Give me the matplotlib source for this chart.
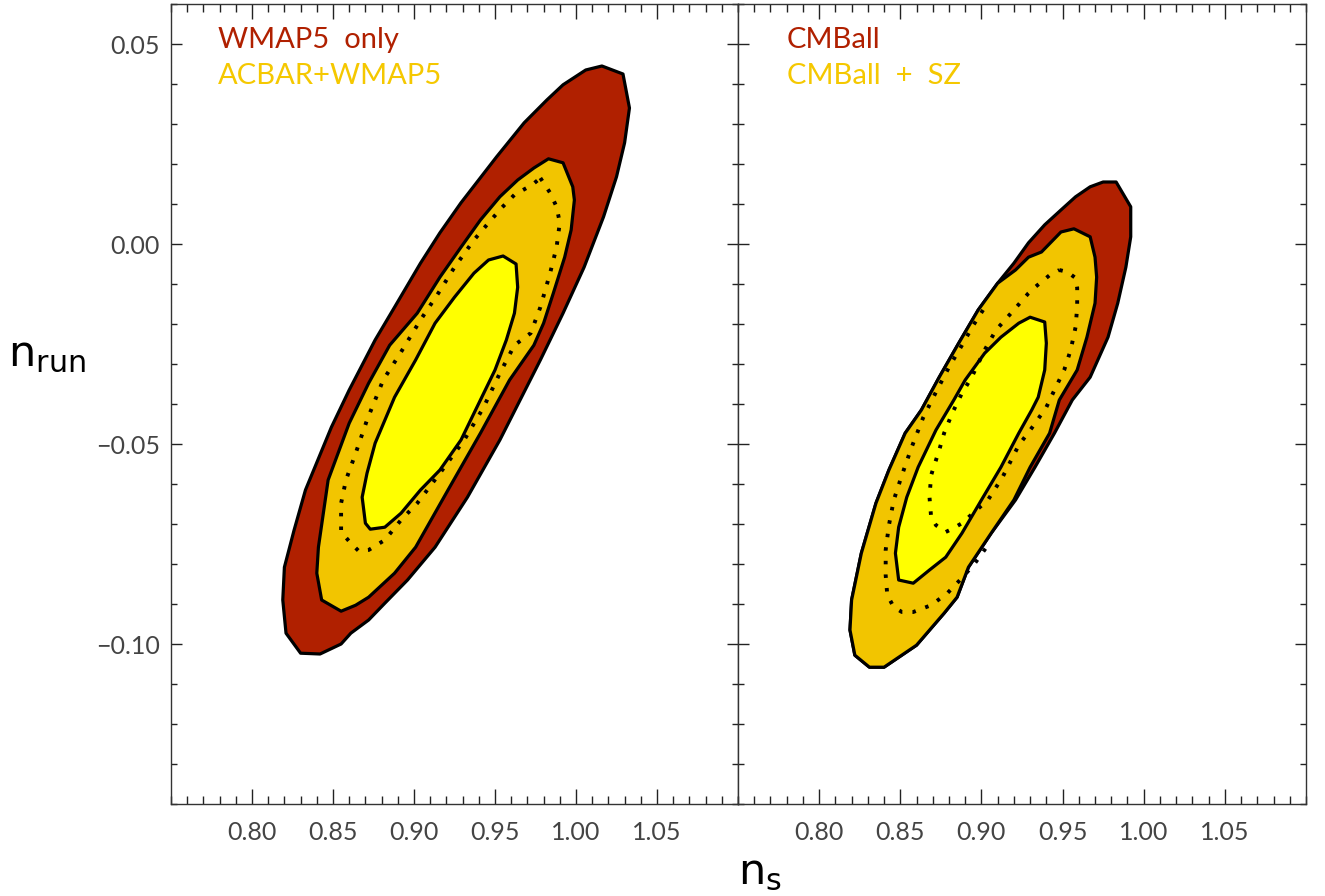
import matplotlib
matplotlib.use("Agg")
import matplotlib.pyplot as plt
from matplotlib.ticker import MultipleLocator, FuncFormatter

# ---------------- data (n_s, n_run) ----------------
# Left panel: WMAP5 only (95%, red), ACBAR+WMAP5 (95% gold, 68% yellow), WMAP5 68% (dotted)
wmap5_95_ns = [1.016, 1.029, 1.033, 1.030, 1.025, 1.017, 1.005, 0.992, 0.984, 0.978,
               0.953, 0.933, 0.913, 0.896, 0.882, 0.872, 0.861, 0.855, 0.842, 0.830,
               0.821, 0.819, 0.820, 0.826, 0.833, 0.849, 0.860, 0.876, 0.888, 0.904,
               0.916, 0.929, 0.951, 0.968, 0.982, 0.992, 1.006]
wmap5_95_nrun = [0.0445, 0.0425, 0.034, 0.0253, 0.0168, 0.0068, -0.0058, -0.0173, -0.024, -0.029,
                 -0.049, -0.0633, -0.0758, -0.084, -0.0898, -0.094, -0.0973, -0.100, -0.1025, -0.1023,
                 -0.0973, -0.089, -0.0808, -0.0715, -0.0615, -0.0458, -0.0365, -0.024, -0.0158, -0.0048,
                 0.0028, 0.0103, 0.0218, 0.0303, 0.036, 0.0398, 0.0435]

acbar_95_ns = [0.983, 0.992, 0.998, 0.999, 0.997, 0.993, 0.986, 0.980, 0.974, 0.959,
               0.941, 0.921, 0.901, 0.888, 0.872, 0.864, 0.855, 0.843, 0.840, 0.841,
               0.847, 0.860, 0.872, 0.885, 0.902, 0.916, 0.929, 0.941, 0.953, 0.964, 0.974]
acbar_95_nrun = [0.0213, 0.0203, 0.0143, 0.011, 0.0035, -0.0033, -0.0123, -0.0198, -0.0253, -0.034,
                 -0.0473, -0.0615, -0.0758, -0.0823, -0.0883, -0.0903, -0.0918, -0.089, -0.0823, -0.0758,
                 -0.059, -0.0448, -0.0348, -0.0253, -0.0173, -0.0083, -0.0008, 0.006, 0.0118, 0.016, 0.019]

acbar_68_ns = [0.955, 0.963, 0.964, 0.962, 0.957, 0.950, 0.941, 0.929, 0.916, 0.904,
               0.892, 0.882, 0.873, 0.870, 0.868, 0.871, 0.876, 0.888, 0.901, 0.913,
               0.925, 0.937, 0.946]
acbar_68_nrun = [-0.003, -0.005, -0.0108, -0.0173, -0.024, -0.0315, -0.039, -0.049, -0.0565, -0.0615,
                 -0.0673, -0.0708, -0.0713, -0.0698, -0.0633, -0.0573, -0.0498, -0.0383, -0.029, -0.0198,
                 -0.0133, -0.0073, -0.004]

wmap5_68_ns = [0.978, 0.984, 0.988, 0.990, 0.988, 0.984, 0.978, 0.972, 0.962, 0.953,
               0.943, 0.931, 0.916, 0.902, 0.892, 0.882, 0.872, 0.866, 0.861, 0.855,
               0.855, 0.858, 0.864, 0.871, 0.881, 0.892, 0.904, 0.915, 0.925, 0.937,
               0.945, 0.954, 0.962, 0.973, 0.978]
wmap5_68_nrun = [0.0165, 0.0128, 0.0093, 0.0053, -0.0008, -0.0073, -0.0158, -0.0223, -0.0253, -0.0323,
                 -0.0408, -0.049, -0.0573, -0.0648, -0.069, -0.074, -0.0765, -0.0768, -0.0748, -0.072,
                 -0.0648, -0.059, -0.0523, -0.044, -0.034, -0.027, -0.019, -0.0123, -0.0058, 0.001,
                 0.0048, 0.009, 0.0123, 0.0148, 0.0165]

# Right panel: CMBall (95%, red), CMBall + SZ (95% gold, 68% yellow), CMBall 68% (dotted)
cmball_95_ns = [0.975, 0.983, 0.992, 0.992, 0.989, 0.984, 0.978, 0.967, 0.956, 0.945,
                0.933, 0.921, 0.906, 0.892, 0.885, 0.877, 0.860, 0.840, 0.831, 0.822,
                0.819, 0.820, 0.826, 0.835, 0.843, 0.853, 0.863, 0.874, 0.886, 0.898,
                0.910, 0.920, 0.929, 0.939, 0.949, 0.958, 0.967]
cmball_95_nrun = [0.0155, 0.0155, 0.0093, 0.0018, -0.0058, -0.0148, -0.0233, -0.0333, -0.039, -0.0473,
                  -0.0558, -0.064, -0.0723, -0.0808, -0.0883, -0.0923, -0.1003, -0.1058, -0.1058, -0.1028,
                  -0.0965, -0.089, -0.0773, -0.0648, -0.0565, -0.0473, -0.0415, -0.0333, -0.0248, -0.0165,
                  -0.0098, -0.0048, 0.0003, 0.0048, 0.0085, 0.0118, 0.0143]

sz_95_ns = [0.957, 0.967, 0.970, 0.971, 0.970, 0.965, 0.959, 0.948, 0.942, 0.930,
            0.920, 0.906, 0.892, 0.885, 0.877, 0.860, 0.840, 0.831, 0.822, 0.819,
            0.820, 0.826, 0.835, 0.843, 0.853, 0.863, 0.874, 0.886, 0.898, 0.910,
            0.921, 0.929, 0.937, 0.949]
sz_95_nrun = [0.0038, 0.0018, -0.0033, -0.0083, -0.0148, -0.0233, -0.0315, -0.039, -0.0473, -0.0558,
              -0.064, -0.0723, -0.0808, -0.0883, -0.0923, -0.1003, -0.1058, -0.1058, -0.1028, -0.0965,
              -0.089, -0.0773, -0.0648, -0.0565, -0.0473, -0.0415, -0.0333, -0.0248, -0.0165, -0.0098,
              -0.0065, -0.0033, -0.002, 0.003]

sz_68_ns = [0.930, 0.939, 0.940, 0.939, 0.935, 0.931, 0.923, 0.912, 0.900, 0.888,
            0.878, 0.868, 0.858, 0.849, 0.847, 0.849, 0.854, 0.861, 0.872, 0.883,
            0.890, 0.902, 0.912, 0.923]
sz_68_nrun = [-0.0183, -0.0195, -0.0248, -0.0315, -0.0383, -0.0415, -0.0473, -0.0558, -0.064, -0.0723,
              -0.0783, -0.0815, -0.0848, -0.084, -0.0773, -0.0708, -0.0633, -0.0558, -0.0465, -0.039,
              -0.034, -0.0273, -0.0233, -0.0198]

cmball_68_ns = [0.948, 0.953, 0.958, 0.959, 0.959, 0.958, 0.955, 0.951, 0.945, 0.940,
                0.931, 0.923, 0.913, 0.904, 0.897, 0.888, 0.883, 0.878, 0.872, 0.869,
                0.868, 0.869, 0.874, 0.877, 0.882, 0.888, 0.894, 0.902, 0.909, 0.920,
                0.929, 0.933, 0.942, 0.948]
cmball_68_nrun = [-0.0065, -0.007, -0.0085, -0.011, -0.0158, -0.0208, -0.0265, -0.0315, -0.0365, -0.0408,
                  -0.046, -0.0503, -0.0583, -0.064, -0.0665, -0.0698, -0.071, -0.072, -0.0703, -0.0683,
                  -0.0633, -0.0578, -0.0515, -0.0473, -0.0423, -0.0373, -0.0333, -0.0265, -0.0215, -0.0165,
                  -0.0123, -0.0108, -0.0078, -0.0065]

extra_dot_ns = [0.901, 0.895, 0.888, 0.880, 0.872, 0.864, 0.857, 0.851, 0.846, 0.843,
                0.841, 0.841, 0.842, 0.846, 0.851, 0.858, 0.869, 0.879, 0.888, 0.896, 0.904]
extra_dot_nrun = [-0.0165, -0.0203, -0.0253, -0.0308, -0.037, -0.0435, -0.0508, -0.0578, -0.064, -0.0703,
                  -0.0765, -0.0828, -0.0878, -0.0908, -0.092, -0.092, -0.0903, -0.0873, -0.0835, -0.0798, -0.0753]

x_ticks = [0.80, 0.85, 0.90, 0.95, 1.00, 1.05]
y_ticks = [-0.10, -0.05, 0.00, 0.05]
x_range = (0.75, 1.10)
y_range = (-0.14, 0.06)

left_labels = ["WMAP5  only", "ACBAR+WMAP5"]
right_labels = ["CMBall", "CMBall  +  SZ"]

# ---------------- style ----------------
RED = "#b02000"
GOLD = "#f2c500"
YEL = "#ffff00"
TXT_GOLD = "#f5c800"
LW = 2.3
plt.rcParams['font.family'] = ['Lato', 'DejaVu Sans']

fig = plt.figure(figsize=(13.25, 8.96), dpi=100)
W, H = 1325.0, 896.0
axL = fig.add_axes([171 / W, (H - 804) / H, 567 / W, 800 / H])
axR = fig.add_axes([738 / W, (H - 804) / H, 568 / W, 800 / H])

fmt = FuncFormatter(lambda v, p: ('%.2f' % v).replace('-', '\u2212'))

def style(ax, left_labels_on):
    ax.set_xlim(*x_range)
    ax.set_ylim(*y_range)
    ax.set_xticks(x_ticks)
    ax.set_yticks(y_ticks)
    ax.xaxis.set_minor_locator(MultipleLocator(0.01))
    ax.yaxis.set_minor_locator(MultipleLocator(0.01))
    ax.xaxis.set_major_formatter(fmt)
    ax.yaxis.set_major_formatter(fmt)
    ax.tick_params(axis='both', which='both', direction='in', top=True, right=True,
                   color='#222222', width=1.0)
    ax.tick_params(axis='x', which='major', length=11, labelsize=18, pad=12, labelcolor='#444444')
    ax.tick_params(axis='x', which='minor', length=5.5)
    ax.tick_params(axis='y', which='major', length=8, labelsize=18, pad=8, labelcolor='#444444')
    ax.tick_params(axis='y', which='minor', length=4)
    ax.tick_params(axis='y', labelleft=left_labels_on)
    for s in ax.spines.values():
        s.set_color('#333333')
        s.set_linewidth(1.0)

def poly(ax, xs, ys, color):
    ax.fill(xs, ys, facecolor=color, edgecolor='black', linewidth=LW, joinstyle='round', zorder=2)

def dots(ax, xs, ys, closed=True):
    if closed:
        xs = list(xs) + [xs[0]]
        ys = list(ys) + [ys[0]]
    ax.plot(xs, ys, color='black', linewidth=2.8, linestyle=(0, (0.9, 2.6)),
            dash_capstyle='butt', zorder=4)

# left panel
poly(axL, wmap5_95_ns, wmap5_95_nrun, RED)
poly(axL, acbar_95_ns, acbar_95_nrun, GOLD)
poly(axL, acbar_68_ns, acbar_68_nrun, YEL)
dots(axL, wmap5_68_ns, wmap5_68_nrun)
style(axL, True)
axL.text(0.779, 0.0489, left_labels[0], color=RED, fontsize=21, va='baseline', ha='left')
axL.text(0.779, 0.0400, left_labels[1], color=TXT_GOLD, fontsize=21, va='baseline', ha='left')

# right panel
poly(axR, cmball_95_ns, cmball_95_nrun, RED)
poly(axR, sz_95_ns, sz_95_nrun, GOLD)
poly(axR, sz_68_ns, sz_68_nrun, YEL)
dots(axR, cmball_68_ns, cmball_68_nrun)
dots(axR, extra_dot_ns, extra_dot_nrun, closed=False)
style(axR, False)
axR.text(0.780, 0.0489, right_labels[0], color=RED, fontsize=21, va='baseline', ha='left')
axR.text(0.780, 0.0400, right_labels[1], color=TXT_GOLD, fontsize=21, va='baseline', ha='left')

# axis titles
fig.text(8 / W, 1 - 366 / H, r'$\mathregular{n_{run}}$', fontsize=31, ha='left', va='baseline',
         family=['DejaVu Sans'])
fig.text(738 / W, 1 - 884 / H, r'$\mathregular{n_{s}}$', fontsize=31, ha='left', va='baseline',
         family=['DejaVu Sans'])

fig.savefig("out.png", dpi=100)
